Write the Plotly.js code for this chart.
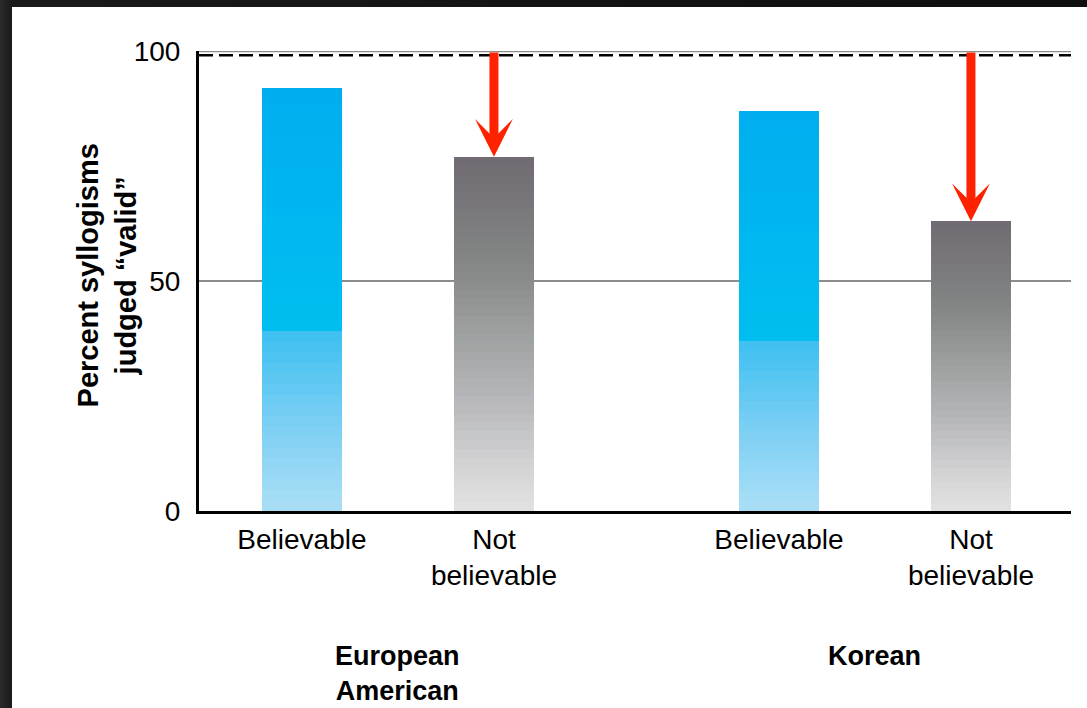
<!DOCTYPE html>
<html><head><meta charset="utf-8">
<script src="https://cdn.plot.ly/plotly-3.0.1.min.js"></script>
<style>
html,body{margin:0;padding:0;width:1087px;height:708px;overflow:hidden;background:#161616;}
#frame{position:absolute;left:0;top:0;width:1087px;height:708px;background:linear-gradient(90deg,#2b2b2b 0px,#1a1a1a 12px,#0e0e0e 100%);}
#chart{position:absolute;left:12px;top:7px;width:1075px;height:701px;background:#fff;}
</style></head><body>
<div id="frame"></div><div id="chart"></div>
<script>
// ---- data ----
const groups = ["European<br>American", "Korean"];
const conditions = ["Believable", "Not<br>believable"];
const euroValues = [92, 77];
const koreanValues = [87, 63];
const yTickVals = [0, 50, 100];
const yTickText = ["0", "50", "100"];
const ceilingLine = 99.1;   // dashed reference line (drawn just below 100)
const topGrid = 100;

// ---- layout helpers ----
const groupSpacing = 2.484;   // distance between the first bars of each group
const barWidth = 0.417;
const valuesByGroup = [euroValues, koreanValues];
const xs = [], vals = [], conds = [], tickText = [];
valuesByGroup.forEach((gv, g) => {
  gv.forEach((v, c) => {
    xs.push(g * groupSpacing + c);
    vals.push(v);
    conds.push(c);
    tickText.push(conditions[c]);
  });
});
const groupCenters = groups.map((_, g) => g * groupSpacing + 0.5);

// gradient stops (fraction of bar height -> rgb)
const blueStops = [[0,[170,223,246]],[0.2,[125,207,243]],[0.42,[62,192,241]],[0.435,[0,190,240]],[1,[0,174,239]]];
const grayStops = [[0,[226,226,226]],[0.15,[208,208,210]],[0.33,[180,181,184]],[0.52,[155,158,157]],[0.7,[131,134,133]],[1,[112,107,114]]];
function interp(stops, f) {
  for (let i = 1; i < stops.length; i++) {
    if (f <= stops[i][0]) {
      const [f0, c0] = stops[i-1], [f1, c1] = stops[i];
      const t = (f - f0) / (f1 - f0);
      return 'rgb(' + c0.map((a, k) => Math.round(a + (c1[k] - a) * t)).join(',') + ')';
    }
  }
  return 'rgb(' + stops[stops.length-1][1].join(',') + ')';
}

const N = 40;
const traces = [];
for (let k = 0; k < N; k++) {
  const f = (k + 0.5) / N;
  traces.push({
    type: 'bar',
    x: xs,
    y: vals.map(v => v / N),
    width: barWidth,
    marker: {
      color: conds.map(c => interp(c === 0 ? blueStops : grayStops, f)),
      line: {width: 0}
    },
    showlegend: false,
    hoverinfo: 'skip'
  });
}

const fontFam = '"Liberation Sans", Arial, Helvetica, sans-serif';
const annotations = [];
// red arrows over "Not believable" bars
xs.forEach((x, i) => {
  if (conds[i] === 1) {
    annotations.push({
      x: x, y: vals[i], xref: 'x', yref: 'y',
      ax: x, ay: topGrid, axref: 'x', ayref: 'y',
      text: '', showarrow: true, arrowhead: 3, arrowwidth: 9, arrowsize: 0.7,
      arrowcolor: '#ff2200', standoff: 0
    });
  }
});
// group labels
groups.forEach((gname, g) => {
  annotations.push({
    x: groupCenters[g], xref: 'x', y: -0.279, yref: 'paper',
    xanchor: 'center', yanchor: 'top', showarrow: false,
    text: '<b>' + gname + '</b>',
    font: {family: fontFam, size: 27, color: '#000'}
  });
});
// y-axis title
annotations.push({
  x: -0.105, xref: 'paper', y: 0.513, yref: 'paper',
  xanchor: 'center', yanchor: 'middle', showarrow: false, textangle: -90,
  text: '<b>Percent syllogisms<br>judged \u201cvalid\u201d</b>',
  font: {family: fontFam, size: 29, color: '#000'}
});

const layout = {
  width: 1075, height: 701,
  margin: {l: 187, r: 16, t: 44, b: 197},
  paper_bgcolor: '#ffffff', plot_bgcolor: '#ffffff',
  barmode: 'stack',
  hovermode: false,
  font: {family: fontFam, size: 28, color: '#000'},
  xaxis: {
    range: [-0.536, 4.005], showgrid: false, zeroline: false,
    showline: true, linecolor: '#000', linewidth: 3,
    tickvals: xs, ticktext: tickText, ticks: '', ticklabelstandoff: 1,
    tickfont: {family: fontFam, size: 28, color: '#000'}
  },
  yaxis: {
    range: [0, 100], tickvals: yTickVals, ticktext: yTickText,
    showgrid: true, gridcolor: '#8c8c8c', gridwidth: 2,
    zeroline: false, showline: true, linecolor: '#000', linewidth: 3,
    ticks: '', ticklabelstandoff: 10,
    tickfont: {family: fontFam, size: 28, color: '#000'}
  },
  shapes: [
    {
      type: 'line', xref: 'paper', x0: 0, x1: 1, yref: 'y', y0: topGrid, y1: topGrid,
      line: {color: '#8c8c8c', width: 2.5}, layer: 'below'
    },
    {
      type: 'line', xref: 'paper', x0: 0, x1: 1, yref: 'y', y0: ceilingLine, y1: ceilingLine,
      line: {color: '#000', width: 2.5, dash: '14px,6px'}, layer: 'above'
    }
  ],
  annotations: annotations
};

Plotly.newPlot('chart', traces, layout, {displayModeBar: false, staticPlot: true});
</script>
</body></html>
